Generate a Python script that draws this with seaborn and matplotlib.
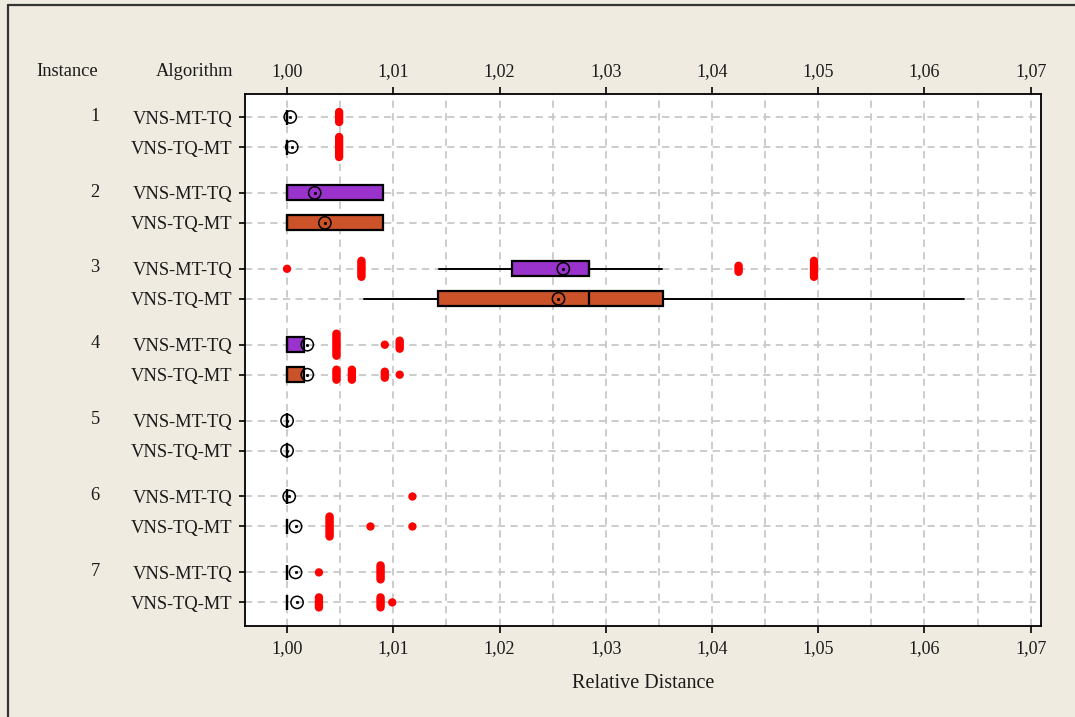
import numpy as np
import pandas as pd
import matplotlib
matplotlib.use("Agg")
import matplotlib.pyplot as plt
import matplotlib.transforms as mtransforms
from matplotlib.ticker import FuncFormatter, MultipleLocator
from matplotlib.lines import Line2D
import seaborn as sns

# ---------------- data ----------------
instances = ["1", "2", "3", "4", "5", "6", "7"]
algorithms = ["VNS-MT-TQ", "VNS-TQ-MT"]

# one entry per (instance, algorithm) row, top to bottom
q1 = [1.0000, 1.0000, 1.0000, 1.0000, 1.0212, 1.0142, 1.0000, 1.0000,
      1.0000, 1.0000, 1.0000, 1.0000, 1.0000, 1.0000]
med = [1.0000, 1.0000, 1.0000, 1.0000, 1.0284, 1.0284, 1.0000, 1.0000,
       1.0000, 1.0000, 1.0000, 1.0000, 1.0000, 1.0000]
q3 = [1.0000, 1.0000, 1.0090, 1.0090, 1.0284, 1.0354, 1.0016, 1.0016,
      1.0000, 1.0000, 1.0000, 1.0000, 1.0000, 1.0000]
whis_lo = [1.0000, 1.0000, 1.0000, 1.0000, 1.0143, 1.0072, 1.0000, 1.0000,
           1.0000, 1.0000, 1.0000, 1.0000, 1.0000, 1.0000]
whis_hi = [1.0000, 1.0000, 1.0090, 1.0090, 1.0353, 1.0637, 1.0016, 1.0016,
           1.0000, 1.0000, 1.0000, 1.0000, 1.0000, 1.0000]
means = [1.0003, 1.00044, 1.0026, 1.00356, 1.0260, 1.02555, 1.0019, 1.0019,
         1.0000, 1.0000, 1.0002, 1.0008, 1.0008, 1.00094]

# outliers: row index, value, number of tied points
out_row = [0, 1, 4, 4, 4, 4, 6, 6, 6, 7, 7, 7, 7, 10, 11, 11, 11, 12, 12, 13, 13, 13]
out_val = [1.0049, 1.0049, 1.0000, 1.0070, 1.0425, 1.0496, 1.00465, 1.0092, 1.0106,
           1.00465, 1.0061, 1.0092, 1.0106, 1.0118, 1.0040, 1.00785, 1.0118,
           1.0030, 1.0088, 1.0030, 1.0088, 1.0099]
out_cnt = [6, 11, 1, 9, 4, 9, 12, 1, 5, 6, 6, 4, 1, 1, 11, 1, 1, 1, 8, 6, 6, 1]

x_ticks = [1.00, 1.01, 1.02, 1.03, 1.04, 1.05, 1.06, 1.07]

# ---------------- style ----------------
BG = "#EFEBE1"
PURPLE = "#9933CC"
ORANGE = "#CC5229"
TXT = "#1a1a1a"

sns.set_theme(style="white")
plt.rcParams["font.family"] = ["Liberation Serif", "DejaVu Serif"]

W, H = 1075, 717
fig = plt.figure(figsize=(W / 100, H / 100), dpi=100, facecolor=BG)
ax = fig.add_axes([245 / W, 1 - 626 / H, (1040.7 - 245) / W, (626 - 94) / H])
ax.set_facecolor("white")

GROUP_STEP = 2.53
ypos = [g * GROUP_STEP + r for g in range(len(instances)) for r in range(len(algorithms))]
ylabels = [a for _ in instances for a in algorithms]

# ---------------- boxes ----------------
stats = []
for i in range(len(ypos)):
    stats.append(dict(med=med[i], q1=q1[i], q3=q3[i], whislo=whis_lo[i],
                      whishi=whis_hi[i], fliers=[]))
bp = ax.bxp(stats, positions=ypos, widths=0.5, orientation="horizontal",
            patch_artist=True, showcaps=False, showfliers=False,
            boxprops=dict(edgecolor="black", linewidth=1.6),
            medianprops=dict(color="black", linewidth=1.6),
            whiskerprops=dict(color="black", linewidth=1.4), manage_ticks=False)
for i, b in enumerate(bp["boxes"]):
    b.set_facecolor(PURPLE if i % 2 == 0 else ORANGE)
    b.set_zorder(3)
for m in bp["medians"]:
    m.set_zorder(4)

# ---------------- outliers (stacked ties) ----------------
step = 2.0 / 30.0
pts_x, pts_y = [], []
for r, v, n in zip(out_row, out_val, out_cnt):
    for k in range(n):
        pts_x.append(v)
        pts_y.append(ypos[r] + (k - (n - 1) / 2) * step)
df_out = pd.DataFrame({"x": pts_x, "y": pts_y})
sns.scatterplot(data=df_out, x="x", y="y", ax=ax, color="#FF0000", s=36,
                edgecolor="none", linewidth=0, zorder=5, legend=False)

# ---------------- means ----------------
df_mean = pd.DataFrame({"x": means, "y": ypos})
sns.scatterplot(data=df_mean, x="x", y="y", ax=ax, marker="o", s=78,
                facecolor="none", edgecolor="black", linewidth=1.1, zorder=6, legend=False)
sns.scatterplot(data=df_mean, x="x", y="y", ax=ax, marker="o", s=3,
                color="black", edgecolor="black", linewidth=0.5, zorder=6, legend=False)

# ---------------- axes ----------------
ax.set_xlim(0.99604, 1.07094)
ax.set_ylim(16.967, -0.767)
ax.set_xticks(x_ticks)
ax.xaxis.set_minor_locator(MultipleLocator(0.005))
ax.xaxis.set_major_formatter(FuncFormatter(lambda v, p: f"{v:.2f}".replace(".", ",")))
ax.set_yticks(ypos)
ax.set_yticklabels(ylabels)

ax.grid(True, which="both", axis="x", color="#C8C8C8", linestyle=(0, (4, 3)), linewidth=1.3, zorder=0)
ax.grid(True, which="major", axis="y", color="#C8C8C8", linestyle=(0, (4, 3)), linewidth=1.3, zorder=0)
ax.set_axisbelow(True)

ax.tick_params(axis="x", which="major", top=True, labeltop=True, bottom=True, labelbottom=True,
               direction="out", length=5, width=1.2, color="black", labelsize=13,
               labelcolor=TXT, pad=5)
ax.tick_params(axis="x", which="minor", length=0)
ax.tick_params(axis="y", which="major", left=True, direction="out", length=4.3, width=1.2,
               color="black", labelsize=13.3, labelcolor=TXT, pad=4.5)
for s in ax.spines.values():
    s.set_color("black")
    s.set_linewidth(1.3)

ax.set_xlabel("Relative Distance", fontsize=14.5, color=TXT, labelpad=12)
ax.set_ylabel("")

# instance numbers and header texts
trans = mtransforms.blended_transform_factory(fig.transFigure, ax.transData)
for g, name in enumerate(instances):
    ax.text(95 / W, ypos[2 * g] - 0.03, name, transform=trans, ha="center", va="center",
            fontsize=13.3, color=TXT)
fig.text(67 / W, 1 - 71 / H, "Instance", ha="center", va="center", fontsize=13.3, color=TXT)
fig.text(195 / W, 1 - 71 / H, "Algorithm", ha="center", va="center", fontsize=13.3, color=TXT)

# outer frame lines (left and top)
fig.add_artist(Line2D([7.5 / W, 7.5 / W], [0, 1 - 5 / H], transform=fig.transFigure,
                      color="#333333", linewidth=1.6))
fig.add_artist(Line2D([7.5 / W, 1], [1 - 5 / H, 1 - 5 / H], transform=fig.transFigure,
                      color="#333333", linewidth=1.6))

fig.savefig("out.png", dpi=100, facecolor=BG)
